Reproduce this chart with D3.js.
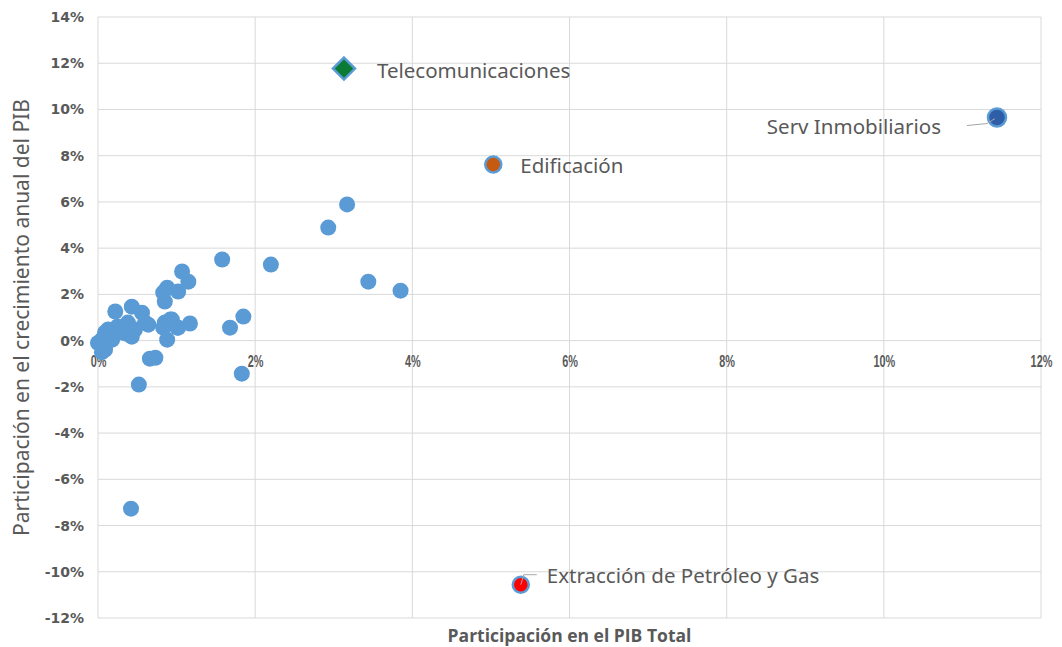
<!DOCTYPE html>
<html>
<head>
<meta charset="utf-8">
<script src="https://cdn.jsdelivr.net/npm/d3@7"></script>
<style>
  body { margin: 0; background: #fff; }
  svg { display: block; }
</style>
</head>
<body>
<svg class="chart"></svg>
<script>
// participación en el PIB total (%) y en el crecimiento anual (%)
var xShare = [0.0, 0.05, 0.09, 0.05, 0.13, 0.09, 0.18, 0.25, 0.22, 0.31, 0.38, 0.43, 0.43, 0.47,
  0.56, 0.60, 0.64, 0.85, 0.94, 1.01, 1.17, 0.88, 0.66, 0.73, 0.52, 0.42,
  1.07, 1.15, 0.88, 0.83, 0.85, 1.02, 1.58, 0.92, 0.83, 1.02, 1.68, 1.85, 1.83,
  2.20, 2.93, 3.17, 3.44, 3.85, 0.12, 0.20, 0.28, 0.36];
var yGrowth = [-0.1, 0.04, -0.39, -0.5, 0.48, 0.35, 0.04, 0.61, 1.26, 0.35, 0.78, 1.47, 0.17, 0.48,
  1.21, 0.78, 0.69, 0.78, 0.91, 0.56, 0.74, 0.04, -0.78, -0.74, -1.90, -7.27,
  2.99, 2.55, 2.29, 2.08, 1.69, 2.12, 3.51, 0.91, 0.56, 0.56, 0.56, 1.04, -1.43,
  3.29, 4.89, 5.89, 2.55, 2.16, 0.15, 0.25, 0.40, 0.30];

var hlNames = ["Telecomunicaciones", "Edificación", "Serv Inmobiliarios", "Extracción de Petróleo y Gas"];
var hlX = [3.13, 5.03, 11.44, 5.38];
var hlY = [11.77, 7.62, 9.65, -10.56];

var xTicks = [0, 2, 4, 6, 8, 10, 12];
var yTicks = [-12, -10, -8, -6, -4, -2, 0, 2, 4, 6, 8, 10, 12, 14];

var W = 1062, H = 647;
var margin = {top: 17, right: 21, bottom: 29, left: 98};
var width = W - margin.left - margin.right,
    height = H - margin.top - margin.bottom;

var svg = d3.select(".chart").attr("width", W).attr("height", H);
var g = svg.append("g").attr("transform", "translate(" + margin.left + "," + margin.top + ")");

var x = d3.scaleLinear().domain([0, 12]).range([0, width]);
var y = d3.scaleLinear().domain([-12, 14]).range([height, 0]);

var gridColor = "#d9d9d9", textColor = "#595959";

// gridlines
g.append("g").selectAll("line").data(yTicks).enter().append("line")
  .attr("x1", 0).attr("x2", width)
  .attr("y1", function(d) { return y(d); }).attr("y2", function(d) { return y(d); })
  .attr("stroke", gridColor).attr("stroke-width", 1);
g.append("g").selectAll("line").data(xTicks).enter().append("line")
  .attr("y1", 0).attr("y2", height)
  .attr("x1", function(d) { return x(d); }).attr("x2", function(d) { return x(d); })
  .attr("stroke", gridColor).attr("stroke-width", 1);

// y axis labels
var yAxis = d3.axisLeft(y).tickValues(yTicks).tickSize(0).tickPadding(14)
  .tickFormat(function(d) { return d + "%"; });
g.append("g").call(yAxis).call(function(s) {
  s.select(".domain").remove();
  s.selectAll("text").attr("fill", textColor)
    .style("font", "bold 14px 'DejaVu Sans', sans-serif");
});

// x axis labels, crossing at 0 (narrow, like the original)
var xAxis = d3.axisBottom(x).tickValues(xTicks).tickSize(0).tickPadding(15)
  .tickFormat(function(d) { return d + "%"; });
g.append("g").attr("transform", "translate(0," + y(0) + ")").call(xAxis).call(function(s) {
  s.select(".domain").remove();
  s.selectAll("text").attr("fill", textColor)
    .attr("transform", "scale(0.68,1)")
    .style("font", "bold 16px 'Liberation Sans', Arial, sans-serif");
});

// points
var pts = d3.zip(xShare, yGrowth);
g.append("g").selectAll("circle").data(pts).enter().append("circle")
  .attr("cx", function(d) { return x(d[0]); })
  .attr("cy", function(d) { return y(d[1]); })
  .attr("r", 8)
  .attr("fill", "#5b9bd5");

// highlighted sectors
var hlFill = {"Telecomunicaciones": "#0a7a35", "Edificación": "#c55a11",
  "Serv Inmobiliarios": "#2f5ea8", "Extracción de Petróleo y Gas": "#ff0000"};
var hl = hlNames.map(function(n, i) { return {name: n, x: hlX[i], y: hlY[i]}; });

var hg = g.append("g");
hl.forEach(function(d) {
  var cx = x(d.x), cy = y(d.y);
  if (d.name === "Telecomunicaciones") {
    var s = 11;
    hg.append("path")
      .attr("d", "M" + cx + "," + (cy - s) + "L" + (cx + s) + "," + cy + "L" + cx + "," + (cy + s) + "L" + (cx - s) + "," + cy + "Z")
      .attr("fill", hlFill[d.name]).attr("stroke", "#5b9bd5").attr("stroke-width", 2.5);
  } else {
    hg.append("circle").attr("cx", cx).attr("cy", cy)
      .attr("r", d.name === "Serv Inmobiliarios" ? 9 : 8)
      .attr("fill", hlFill[d.name]).attr("stroke", "#5b9bd5").attr("stroke-width", 2.5);
  }
});

// labels and leader lines
var lbl = {
  "Telecomunicaciones": {dx: 33, dy: 2, anchor: "start"},
  "Edificación": {dx: 27, dy: 1, anchor: "start"},
  "Serv Inmobiliarios": {dx: -56, dy: 9, anchor: "end", leader: [[-30, 8], [-10, 6], [-2, 1]]},
  "Extracción de Petróleo y Gas": {dx: 26, dy: -9, anchor: "start", leader: [[0, 0], [3, -10], [16, -10]]}
};
hl.forEach(function(d) {
  var cx = x(d.x), cy = y(d.y), o = lbl[d.name];
  if (o.leader) {
    g.append("path")
      .attr("d", d3.line()(o.leader.map(function(p) { return [cx + p[0], cy + p[1]]; })))
      .attr("fill", "none").attr("stroke", "#a6a6a6").attr("stroke-width", 1);
  }
  g.append("text")
    .attr("x", cx + o.dx).attr("y", cy + o.dy)
    .attr("dy", "0.35em")
    .attr("text-anchor", o.anchor)
    .attr("fill", textColor)
    .style("font", "20.5px 'Noto Sans', sans-serif")
    .text(d.name);
});

// axis titles
svg.append("text")
  .attr("transform", "translate(22," + (margin.top + height / 2) + ") rotate(-90)")
  .attr("text-anchor", "middle").attr("dy", "0.35em")
  .attr("fill", textColor)
  .style("font", "21px 'Noto Sans', sans-serif")
  .text("Participación en el crecimiento anual del PIB");

svg.append("text")
  .attr("x", margin.left + width / 2).attr("y", 636)
  .attr("text-anchor", "middle").attr("dy", "0.35em")
  .attr("fill", textColor)
  .style("font", "bold 17.5px 'Open Sans', sans-serif")
  .text("Participación en el PIB Total");
</script>
</body>
</html>
